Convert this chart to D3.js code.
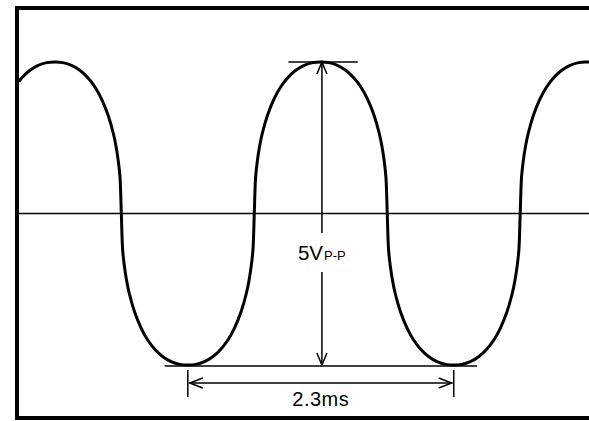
<!DOCTYPE html>
<html lang="en">
<head>
  <meta charset="UTF-8">
  <title>5Vp-p sine wave, 2.3ms period</title>
  <style>
    body { margin: 0; background: #fff; }
    svg { display: block; }
  </style>
</head>
<body>
  <div class="layout"></div>

  <script src="https://d3js.org/d3.v7.min.js"></script>
  <script>
    const SVGWIDTH = 589;
    const SVGHEIGHT = 421;

    // trace: time in ms, level in volts
    const waveTime = [
      0, 0.0225, 0.0915, 0.166, 0.241, 0.31,
      0.379, 0.454, 0.5285, 0.5975, 0.661, 0.7125, 0.77, 0.816, 0.839, 0.859, 0.8735, 0.885,
      0.8965, 0.911, 0.931, 0.954, 1.0, 1.0575, 1.109, 1.1725, 1.2415, 1.316, 1.391, 1.46,
      1.529, 1.604, 1.6785, 1.7475, 1.811, 1.8625, 1.92, 1.966, 1.989, 2.009, 2.0235, 2.035,
      2.0465, 2.061, 2.081, 2.104, 2.15, 2.2075, 2.259, 2.3225, 2.3915, 2.466, 2.541, 2.61,
      2.679, 2.754, 2.8285, 2.8975, 2.961, 3.0125, 3.07, 3.116, 3.139, 3.159, 3.1735, 3.185,
      3.1965, 3.211, 3.231, 3.254, 3.3, 3.3575, 3.409, 3.4725, 3.5415, 3.616, 3.691, 3.76,
      3.829, 3.904, 3.9785, 4.0475, 4.111, 4.1625, 4.22, 4.266, 4.289, 4.309, 4.3235, 4.335,
      4.3465, 4.361, 4.381, 4.404, 4.45, 4.5075, 4.559, 4.6225, 4.6915, 4.766, 4.841, 4.91,
      4.93
    ];
    const waveVolts = [
      2.177, 2.235, 2.36, 2.445, 2.49, 2.5,
      2.49, 2.445, 2.36, 2.235, 2.075, 1.895, 1.625, 1.32, 1.11, 0.86, 0.6, 0,
      -0.6, -0.86, -1.11, -1.32, -1.625, -1.895, -2.075, -2.235, -2.36, -2.445, -2.49, -2.5,
      -2.49, -2.445, -2.36, -2.235, -2.075, -1.895, -1.625, -1.32, -1.11, -0.86, -0.6, 0,
      0.6, 0.86, 1.11, 1.32, 1.625, 1.895, 2.075, 2.235, 2.36, 2.445, 2.49, 2.5,
      2.49, 2.445, 2.36, 2.235, 2.075, 1.895, 1.625, 1.32, 1.11, 0.86, 0.6, 0,
      -0.6, -0.86, -1.11, -1.32, -1.625, -1.895, -2.075, -2.235, -2.36, -2.445, -2.49, -2.5,
      -2.49, -2.445, -2.36, -2.235, -2.075, -1.895, -1.625, -1.32, -1.11, -0.86, -0.6, 0,
      0.6, 0.86, 1.11, 1.32, 1.625, 1.895, 2.075, 2.235, 2.36, 2.445, 2.49, 2.5,
      2.5
    ];

    // measurement markers
    const peakTime = 2.62;          // where the amplitude arrow sits
    const peakLineSpan = [2.33, 2.93];
    const troughLineSpan = [1.26, 3.96];
    const periodTimes = [1.46, 3.76]; // trough to trough
    const ampLabel = '5V';
    const ampSub = 'P-P';
    const periodLabel = '2.3ms';

    const xScale = d3.scaleLinear().domain([0, 4.93]).range([19, 589]);
    const yScale = d3.scaleLinear().domain([-2.5, 2.5]).range([365, 62]);

    const svg = d3.select('.layout')
      .append('svg')
      .attr('width', SVGWIDTH)
      .attr('height', SVGHEIGHT);

    // frame (right side runs off the picture)
    svg.append('rect')
      .attr('x', 17).attr('y', 8)
      .attr('width', 578).attr('height', 410)
      .attr('fill', 'none')
      .attr('stroke', '#000')
      .attr('stroke-width', 4);

    // zero line
    svg.append('line')
      .attr('x1', xScale(0)).attr('x2', xScale(4.93))
      .attr('y1', yScale(0)).attr('y2', yScale(0))
      .attr('stroke', '#000')
      .attr('stroke-width', 1.5);

    const line = d3.line()
      .x(d => xScale(d[0]))
      .y(d => yScale(d[1]))
      .curve(d3.curveCatmullRom.alpha(0.5));

    svg.append('path')
      .datum(d3.zip(waveTime, waveVolts))
      .attr('d', line)
      .attr('fill', 'none')
      .attr('stroke', '#000')
      .attr('stroke-width', 3)
      .attr('stroke-linejoin', 'round');

    const ann = svg.append('g')
      .attr('stroke', '#000')
      .attr('stroke-width', 1.5)
      .attr('fill', 'none');

    // peak and trough reference lines
    ann.append('line')
      .attr('x1', xScale(peakLineSpan[0])).attr('x2', xScale(peakLineSpan[1]))
      .attr('y1', yScale(2.5)).attr('y2', yScale(2.5));
    ann.append('line')
      .attr('x1', xScale(troughLineSpan[0])).attr('x2', xScale(troughLineSpan[1]))
      .attr('y1', yScale(-2.5) + 1).attr('y2', yScale(-2.5) + 1);

    // amplitude arrow, broken for the label
    const ax = xScale(peakTime);
    const yTop = yScale(2.5), yBot = yScale(-2.5);
    ann.append('line').attr('x1', ax).attr('x2', ax).attr('y1', yTop).attr('y2', 233);
    ann.append('line').attr('x1', ax).attr('x2', ax).attr('y1', 272).attr('y2', yBot);
    ann.append('path').attr('d', `M${ax - 5},${yTop + 12}L${ax},${yTop}L${ax + 5},${yTop + 12}`);
    ann.append('path').attr('d', `M${ax - 5},${yBot - 12}L${ax},${yBot}L${ax + 5},${yBot - 12}`);

    // period arrow with end ticks
    const p0 = xScale(periodTimes[0]), p1 = xScale(periodTimes[1]);
    const py = yBot + 18;
    periodTimes.forEach(t => {
      ann.append('line')
        .attr('x1', xScale(t)).attr('x2', xScale(t))
        .attr('y1', yBot + 5).attr('y2', yBot + 32);
    });
    ann.append('line').attr('x1', p0 + 2).attr('x2', p1 - 2).attr('y1', py).attr('y2', py);
    ann.append('path').attr('d', `M${p0 + 15},${py - 5}L${p0 + 2},${py}L${p0 + 15},${py + 5}`);
    ann.append('path').attr('d', `M${p1 - 15},${py - 5}L${p1 - 2},${py}L${p1 - 15},${py + 5}`);

    // labels
    const amp = svg.append('text')
      .attr('x', ax - 24)
      .attr('y', 260)
      .attr('font-family', 'Liberation Sans, Arial, Helvetica, sans-serif')
      .attr('font-size', '20.5px')
      .attr('fill', '#000');
    amp.append('tspan').text(ampLabel);
    amp.append('tspan').attr('font-size', '13px').attr('dx', 1).text(ampSub);

    svg.append('text')
      .attr('x', (p0 + p1) / 2)
      .attr('y', yBot + 41)
      .attr('text-anchor', 'middle')
      .attr('font-family', 'Liberation Sans, Arial, Helvetica, sans-serif')
      .attr('font-size', '20px')
      .attr('letter-spacing', '0.5px')
      .attr('fill', '#000')
      .text(periodLabel);
  </script>
</body>
</html>
